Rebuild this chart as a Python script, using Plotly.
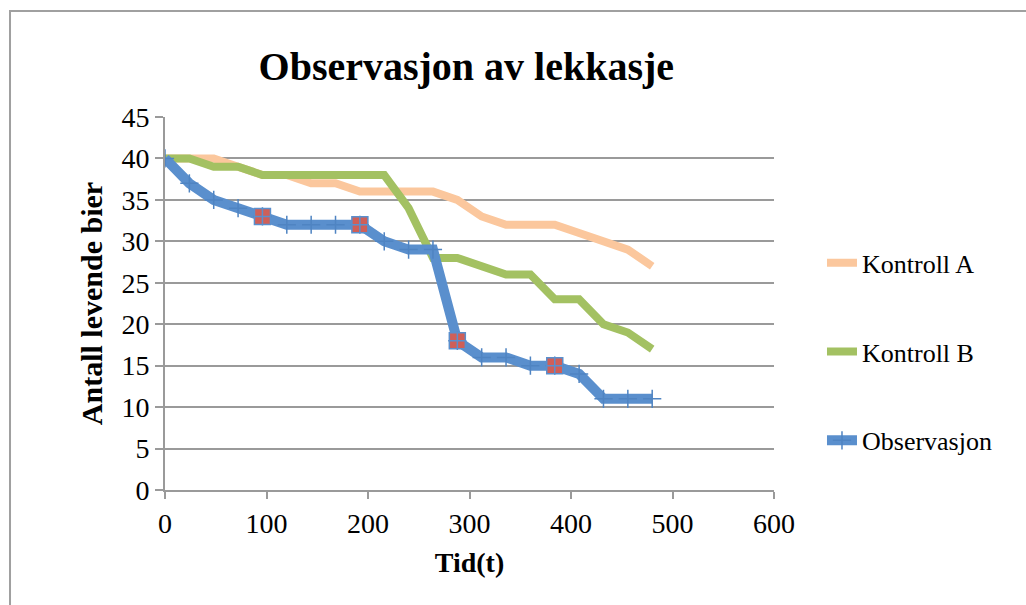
import plotly.graph_objects as go

t = [0, 24, 48, 72, 96, 120, 144, 168, 192, 216, 240, 264, 288, 312, 336, 360, 384, 408, 432, 456, 480]
kontroll_a = [40, 40, 40, 39, 38, 38, 37, 37, 36, 36, 36, 36, 35, 33, 32, 32, 32, 31, 30, 29, 27]
kontroll_b = [40, 40, 39, 39, 38, 38, 38, 38, 38, 38, 34, 28, 28, 27, 26, 26, 23, 23, 20, 19, 17]
observasjon = [40, 37, 35, 34, 33, 32, 32, 32, 32, 30, 29, 29, 18, 16, 16, 15, 15, 14, 11, 11, 11]
highlight_t = [96, 192, 288, 384]
highlight_y = [observasjon[t.index(v)] for v in highlight_t]

x_ticks = [0, 100, 200, 300, 400, 500, 600]
y_ticks = [0, 5, 10, 15, 20, 25, 30, 35, 40, 45]

serif = "Liberation Serif"

fig = go.Figure()
fig.add_trace(go.Scatter(x=t, y=kontroll_a, mode="lines", name="Kontroll A",
                         line=dict(color="#FBC79D", width=8), legendgroup="a"))
fig.add_trace(go.Scatter(x=t, y=kontroll_b, mode="lines", name="Kontroll B",
                         line=dict(color="#A3C162", width=8), legendgroup="b"))
fig.add_trace(go.Scatter(x=t, y=observasjon, mode="lines+markers", name="Observasjon",
                         line=dict(color="#5A8FCD", width=10),
                         marker=dict(symbol="cross-thin", size=13, line=dict(color="#4F84C2", width=1.5)),
                         legendgroup="c"))
fig.add_trace(go.Scatter(x=highlight_t, y=highlight_y, mode="markers", showlegend=False,
                         marker=dict(symbol="square-cross", size=16, color="#CF5F58",
                                     line=dict(color="#5A8FCD", width=1.5))))

fig.update_layout(
    width=1026, height=605,
    margin=dict(l=165, r=252, t=117, b=115),
    paper_bgcolor="white", plot_bgcolor="white",
    font=dict(family=serif, size=28, color="black"),
    title=dict(text="<b>Observasjon av lekkasje</b>", x=0.4545, xanchor="center",
               y=0.891, yanchor="middle", font=dict(family=serif, size=40, color="black")),
    legend=dict(x=1.0788, xanchor="left", y=0.672, yanchor="top", tracegroupgap=52,
                font=dict(family=serif, size=26, color="black"), bgcolor="rgba(0,0,0,0)"),
    shapes=[dict(type="rect", xref="paper", yref="paper", x0=-0.2545, x1=1.6, y0=-0.6, y1=1.284,
                 line=dict(color="#A0A0A0", width=2), fillcolor="rgba(0,0,0,0)", layer="below")],
)
fig.update_xaxes(range=[0, 600], tickmode="array", tickvals=x_ticks, ticktext=[str(v) for v in x_ticks],
                 showgrid=False, zeroline=False,
                 showline=True, linecolor="#9A9A9A", linewidth=2,
                 ticks="outside", ticklen=7, tickcolor="#9A9A9A", tickwidth=2,
                 tickfont_family=serif, tickfont_size=28, tickfont_color="black",
                 title_text="<b>Tid(t)</b>", title_font=dict(family=serif, size=28, color="black"),
                 title_standoff=15)
fig.update_yaxes(range=[0, 45], tickmode="array", tickvals=y_ticks, ticktext=[str(v) for v in y_ticks],
                 showgrid=True, gridcolor="#9A9A9A", gridwidth=2,
                 zeroline=False, showline=True, linecolor="#9A9A9A", linewidth=2,
                 ticks="outside", ticklen=8, tickcolor="#9A9A9A", tickwidth=2,
                 tickfont_family=serif, tickfont_size=28, tickfont_color="black",
                 title_text="<b>Antall levende bier</b>", title_font=dict(family=serif, size=30, color="black"),
                 title_standoff=10)

fig.write_html("out.html")
